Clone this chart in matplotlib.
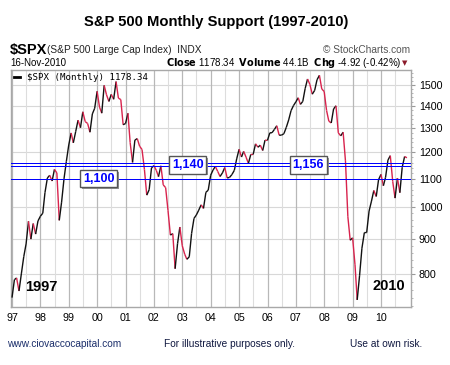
import matplotlib
matplotlib.use('Agg')
import matplotlib.pyplot as plt
import matplotlib.dates as mdates
import matplotlib.patheffects as pe
from matplotlib.collections import LineCollection
from matplotlib.ticker import FixedLocator, NullFormatter, FuncFormatter
import numpy as np
import pandas as pd

plt.rcParams['font.family'] = ['Liberation Sans', 'DejaVu Sans']

# monthly closes, Dec 1996 .. Nov 2010 (last is 16-Nov-2010)
spx_close = [
    740.74,
    786.16, 790.82, 757.12, 801.34, 848.28, 885.14, 954.29, 899.47, 947.28, 914.62, 955.40, 970.43,
    980.28, 1049.34, 1101.75, 1111.75, 1090.82, 1133.84, 1120.67, 957.28, 1017.01, 1098.67, 1163.63, 1229.23,
    1279.64, 1238.33, 1286.37, 1335.18, 1301.84, 1372.71, 1328.72, 1320.41, 1282.71, 1362.93, 1388.91, 1469.25,
    1394.46, 1366.42, 1498.58, 1452.43, 1420.60, 1454.60, 1430.83, 1517.68, 1436.51, 1429.40, 1314.95, 1320.28,
    1366.01, 1239.94, 1160.33, 1249.46, 1255.82, 1224.42, 1211.23, 1133.58, 1040.94, 1059.78, 1139.45, 1148.08,
    1130.20, 1106.73, 1147.39, 1076.92, 1067.14, 989.82, 911.62, 916.07, 815.28, 885.76, 936.31, 879.82,
    855.70, 841.15, 848.18, 916.92, 963.59, 974.50, 990.31, 1008.01, 995.97, 1050.71, 1058.20, 1111.92,
    1131.13, 1144.94, 1126.21, 1107.30, 1120.68, 1140.84, 1101.72, 1104.24, 1114.58, 1130.20, 1173.82, 1211.92,
    1181.27, 1203.60, 1180.59, 1156.85, 1191.50, 1191.33, 1234.18, 1220.33, 1228.81, 1207.01, 1249.48, 1248.29,
    1280.08, 1280.66, 1294.83, 1310.61, 1270.09, 1270.20, 1276.66, 1303.82, 1335.85, 1377.94, 1400.63, 1418.30,
    1438.24, 1406.82, 1420.86, 1482.37, 1530.62, 1503.35, 1455.27, 1473.99, 1526.75, 1549.38, 1481.14, 1468.36,
    1378.55, 1330.63, 1322.70, 1385.59, 1400.38, 1280.00, 1267.38, 1282.83, 1166.36, 968.75, 896.24, 903.25,
    825.88, 735.09, 797.87, 872.81, 919.14, 919.32, 987.48, 1020.62, 1057.08, 1036.19, 1095.63, 1115.10,
    1073.87, 1104.49, 1169.43, 1186.69, 1089.41, 1030.71, 1101.60, 1049.33, 1141.20, 1183.26, 1178.34,
]
dates = pd.date_range('1996-12-31', periods=len(spx_close), freq='ME')

support_levels = [1100, 1145, 1157]
support_labels = ['1,100', '1,140', '1,156']
support_label_dates = ['2000-01-20', '2003-03-10', '2007-06-10']
support_label_values = [1100, 1151, 1151]

y_ticks = [800, 900, 1000, 1100, 1200, 1300, 1400, 1500]
year_ticks = pd.date_range('1997-01-01', '2010-01-01', freq='YS')

fig = plt.figure(figsize=(4.5, 3.65), dpi=100)
ax = fig.add_axes([11/450, 1-307/365, 399.5/450, 237/365])

x = mdates.date2num(dates)
y = np.array(spx_close)
pts = np.column_stack([x, y]).reshape(-1, 1, 2)
segs = np.concatenate([pts[:-1], pts[1:]], axis=1)
cols = ['#111111' if y[i+1] >= y[i] else '#d8234d' for i in range(len(y)-1)]
lc = LineCollection(segs, colors=cols, linewidths=1.0, zorder=3)
ax.add_collection(lc)

ax.set_yscale('log')
ax.set_xlim(mdates.datestr2num('1996-12-18'), mdates.datestr2num('2011-01-15'))
ax.set_ylim(718, 1577)

ax.yaxis.set_major_locator(FixedLocator(y_ticks))
ax.yaxis.set_major_formatter(FuncFormatter(lambda v, p: '%d' % v))
ax.yaxis.set_minor_locator(FixedLocator(list(range(720, 1580, 20))))
ax.yaxis.set_minor_formatter(NullFormatter())
ax.yaxis.tick_right()
ax.tick_params(axis='y', which='major', length=3, color='#999999', labelsize=7.7, pad=3)
ax.tick_params(axis='y', which='minor', length=1.5, color='#aaaaaa')

ax.xaxis.set_major_locator(FixedLocator(mdates.date2num(year_ticks)))
ax.xaxis.set_major_formatter(mdates.DateFormatter('%y'))
ax.xaxis.set_minor_locator(mdates.MonthLocator(bymonth=7))
ax.tick_params(axis='x', which='both', length=0, labelsize=7.7, pad=4)

ax.grid(True, which='major', axis='x', color='#b8b8b8', lw=0.9)
ax.grid(True, which='minor', axis='x', color='#dddddd', lw=0.8)
# horizontal grid, skipping levels already covered by a support line
for yt in y_ticks:
    if yt not in support_levels:
        ax.axhline(yt, color='#d8d8d8', lw=0.8, zorder=0.5)
for s in ax.spines.values():
    s.set_color('#a8a8a8')
    s.set_linewidth(1.0)

for lvl in support_levels:
    ax.axhline(lvl, color='#0000ff', lw=0.72, snap=True, antialiased=False, zorder=4)
for lab, d, v in zip(support_labels, support_label_dates, support_label_values):
    t = ax.text(mdates.datestr2num(d), v, lab, color='#0000ff', fontsize=9, fontweight='bold',
                ha='center', va='center', zorder=6,
                bbox=dict(boxstyle='square,pad=0.22', fc='white', ec='#555555', lw=1.0))
    t.get_bbox_patch().set_path_effects([
        pe.withSimplePatchShadow(offset=(1.3, -1.3), shadow_rgbFace='#888888', alpha=0.9)])

ax.text(0.035, 0.085, '1997', transform=ax.transAxes, fontsize=10.5, fontweight='bold', va='center')
ax.text(0.905, 0.09, '2010', transform=ax.transAxes, fontsize=10.5, fontweight='bold', va='center')

# legend entry
ax.plot([0.008, 0.023], [0.969, 0.969], transform=ax.transAxes, color='black', lw=2)
ax.text(0.04, 0.969, '$SPX (Monthly) 1178.34', transform=ax.transAxes, family='DejaVu Sans Mono',
        fontsize=6.6, va='center')

# header
fig.text(216/450, 1-22/365, 'S&P 500 Monthly Support (1997-2010)', ha='center', va='center',
         fontsize=10.6, fontweight='bold')
fig.text(10/450, 1-50/365, '$SPX', fontsize=10.5, fontweight='bold', va='center')
fig.text(47/450, 1-50/365, '(S&P 500 Large Cap Index)  INDX', fontsize=7.3, va='center', color='#222222')
fig.text(410/450, 1-50/365, '\u00a9 StockCharts.com', fontsize=7.3, va='center', ha='right', color='#555555')
fig.text(10/450, 1-63/365, '16-Nov-2010', fontsize=7.0, va='center')
fig.text(401/450, 1-63/365,
         r'$\bf{Close}$ 1178.34  $\bf{Volume}$ 44.1B  $\bf{Chg}$ -4.92 (-0.42%)',
         fontsize=7.0, va='center', ha='right')
fig.text(405/450, 1-63/365, '\u25bc', fontsize=5, va='center', ha='center', color='#8b1a2a',
         family='DejaVu Sans')

# footer
fig.text(7/450, 1-344/365, 'www.ciovaccocapital.com', fontsize=7.3, va='center', color='#1c2f6b')
fig.text(164/450, 1-344/365, 'For illustrative purposes only.', fontsize=7.3, va='center', color='#101840')
fig.text(350/450, 1-344/365, 'Use at own risk.', fontsize=7.3, va='center', color='#101840')

fig.savefig('out.png', dpi=100)
